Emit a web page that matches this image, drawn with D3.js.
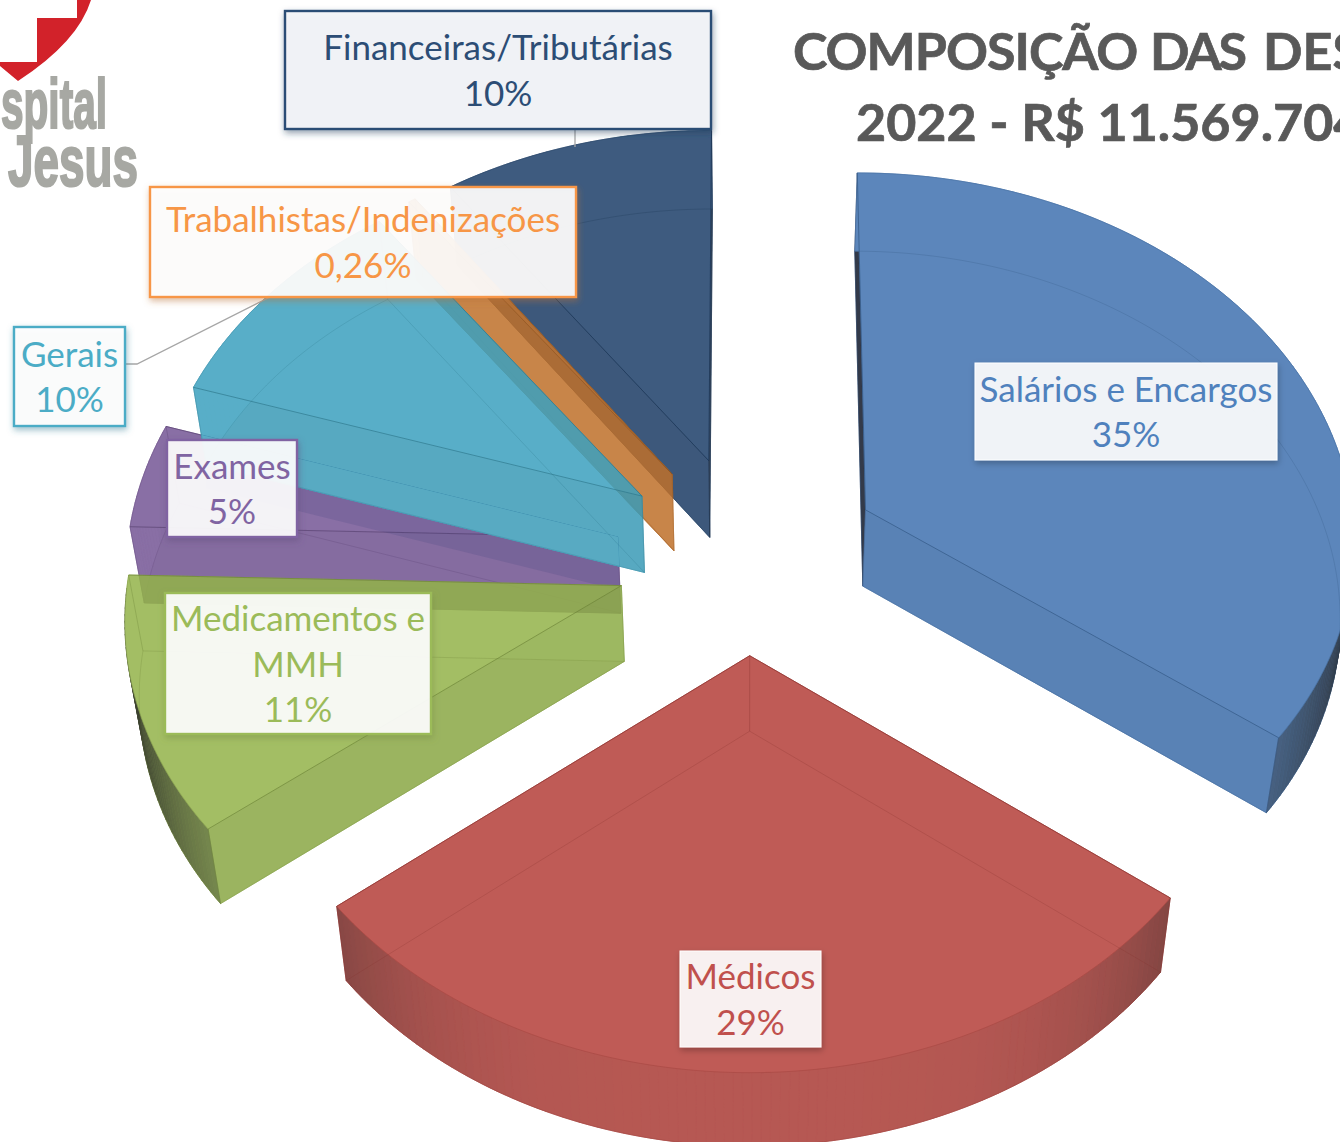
<!DOCTYPE html>
<html><head><meta charset="utf-8">
<script src="https://cdn.jsdelivr.net/npm/d3@7"></script>
<style>html,body{margin:0;padding:0;background:#fff;overflow:hidden}svg{display:block}</style>
</head><body><div id="chart"></div>
<script>
// ---- data ----
const categories = ["Salários e Encargos","Médicos","Medicamentos e MMH","Exames","Gerais","Trabalhistas/Indenizações","Financeiras/Tributárias"];
const shares = [35.25,29.1,11.1,4.55,10,0.26,9.74];
const shareLabels = ["35%","29%","11%","5%","10%","0,26%","10%"];
const titleLines = ["COMPOSIÇÃO DAS DESPESAS","2022 - R$ 11.569.704,00"];
// ---- style ----
const faceColors = ["#4072B0","#B53F39","#93B349","#755696","#3CA1BF","#C7752C","#1D3F69"];
const textColors = ["#4F81BD","#C0504D","#9BBB59","#8064A2","#4BACC6","#F79646","#2C4D75"];
const borderColors = [null,null,"#9BBB59","#8064A2","#4BACC6","#F79646","#2C4D75"];
const labelFills = ["#fff","#fff","#fff","#fff","#fff","#fff","#F4F6F9"];
const labelBoxes = [[975,363,302,97],[680,951,141,96],[165,593,266,141],[167,440,130,97],[14,327,111,99],[150,187,426,110],[285,11,426,118]];
const labelLines = [["Salários e Encargos"],["Médicos"],["Medicamentos e","MMH"],["Exames"],["Gerais"],["Trabalhistas/Indenizações"],["Financeiras/Tributárias"]];
const titleWordX = [793,1150,1263];
const titleWordSpacing = [-1,-3,0];
const paintOrder = [6,5,3,4,2,0,1];
const PURPLE=3, CYAN=4;

const W=1340,H=1142;
const svg=d3.select("#chart").append("svg").attr("width",W).attr("height",H).attr("viewBox",[0,0,W,H]);
const defs=svg.append("defs");
categories.forEach((c,i)=>{
  const sh=defs.append("filter").attr("id","shadow"+i).attr("x","-10%").attr("y","-10%").attr("width","125%").attr("height","130%");
  sh.append("feDropShadow").attr("dx",1).attr("dy",3).attr("stdDeviation",3)
    .attr("flood-color",borderColors[i]?d3.interpolateRgb(borderColors[i],"#000")(.25):"#000")
    .attr("flood-opacity",borderColors[i]?.5:.28);
});
defs.append("filter").attr("id","soft").append("feGaussianBlur").attr("stdDeviation",.7);

// ---- projection of the exploded, tilted pie ----
const cx=748,cy=554,rx=491,ry=369,persp=0.076,explode=0.27,baseScale=0.977,opacity=.85;
const depthAt=d3.scaleLinear().domain([-1,1]).range([78,74]);
const arcs=d3.pie().sort(null).value(d=>d)(shares);

function project(wx,wy,bottom){
  const s=1/(1-persp*wy);
  const x=rx*wx*s, y=ry*wy*s;
  return bottom?[cx+x*baseScale,cy+y+depthAt(wy)]:[cx+x,cy+y];
}
function sliceGeom(a){
  const mid=(a.startAngle+a.endAngle)/2;
  const ox=explode*Math.sin(mid), oy=-explode*Math.cos(mid);
  const pt=(t,b)=>project(ox+Math.sin(t),oy-Math.cos(t),b);
  const apex=b=>project(ox,oy,b);
  const n=Math.max(2,Math.ceil((a.endAngle-a.startAngle)/(Math.PI/180)));
  const ts=d3.range(n+1).map(i=>a.startAngle+(a.endAngle-a.startAngle)*i/n);
  return {pt,apex,ts};
}
const line=d3.line();
const closed=p=>line(p)+"Z";
const pies=svg.append("g");

function facePolys(i){
  const a=arcs[i], g=sliceGeom(a), col=faceColors[i];
  const dark=d3.interpolateRgb(col,"#000");
  const t0=a.startAngle,t1=a.endAngle;
  const list=[];
  list.push({p:[g.apex(true),...g.ts.map(t=>g.pt(t,true))],c:col});
  list.push({p:[g.apex(false),g.pt(t0,false),g.pt(t0,true),g.apex(true)],c:i===0?"#10182a":dark(i===1||i===2?.06:.04)});
  list.push({p:[g.apex(false),g.pt(t1,false),g.pt(t1,true),g.apex(true)],c:i===6?"#10233d":dark(.04)});
  g.ts.slice(0,-1).forEach((t,k)=>{
    const u=g.ts[k+1],m=(t+u)/2;
    const front=Math.cos(m)<0;
    const f=front?0.06+0.8*Math.pow(Math.abs(Math.sin(m)),4):0;
    list.push({p:[g.pt(t,false),g.pt(u,false),g.pt(u,true),g.pt(t,true)],c:dark(f)});
  });
  list.push({p:[g.apex(false),...g.ts.map(t=>g.pt(t,false))],c:col});
  return list;
}
function drawFaces(parent,i,tint){
  facePolys(i).forEach(f=>{
    const c=tint?d3.interpolateRgb("#fff",f.c)(opacity):f.c;
    parent.append("path").attr("d",closed(f.p)).attr("fill",c).attr("stroke",c).attr("stroke-width",.6);
  });
}
// purple silhouette, used so that the teal slice stays clean over it
const clip=defs.append("clipPath").attr("id","purpleClip");
facePolys(PURPLE).forEach(f=>clip.append("path").attr("d",closed(f.p)));

paintOrder.forEach(i=>{
  const a=arcs[i], g=sliceGeom(a), col=faceColors[i];
  if(i===CYAN){
    // soft shadow the teal slice drops on the purple one
    const sh=[g.pt(a.startAngle,true),g.apex(true)];
    pies.append("path").attr("clip-path","url(#purpleClip)")
      .attr("d",closed([...sh,[sh[1][0],sh[1][1]+24],[sh[0][0],sh[0][1]+24]]))
      .attr("fill","#1d2c6a").attr("opacity",.13);
  }
  const grp=pies.append("g").attr("opacity",opacity);
  drawFaces(grp,i,false);
  if(i===CYAN){
    const patch=pies.append("g").attr("clip-path","url(#purpleClip)");
    drawFaces(patch,i,true);
  }
  const t0=a.startAngle,t1=a.endAngle;
  const edge=d3.interpolateRgb(col,"#000")(.3);
  const ln=(p,op)=>pies.append("path").attr("d",line(p)).attr("fill","none").attr("stroke",edge).attr("stroke-width",1).attr("opacity",op);
  ln([g.pt(t0,false),g.apex(false),g.pt(t1,false)],.6);
  ln(g.ts.map(t=>g.pt(t,false)),.25);
  ln([g.pt(t0,true),g.apex(true),g.pt(t1,true)],.22);
  ln(g.ts.map(t=>g.pt(t,true)),.22);
  ln([g.apex(false),g.apex(true)],.3);
  ln([g.pt(t1,false),g.pt(t1,true)],.3);
  ln([g.pt(t0,false),g.pt(t0,true)],.3);
});

// ---- leader lines ----
const leaders=svg.append("g").attr("fill","none").attr("stroke","#A6A6A6").attr("stroke-width",1.3);
leaders.append("path").attr("d",line([[125,364],[137,364],[272,296]]));
leaders.append("path").attr("d",line([[575,129],[575,147]]));

// ---- labels ----
const font="Lato, Carlito, 'Open Sans', sans-serif";
categories.forEach((c,i)=>{
  const [x,y,w,h]=labelBoxes[i];
  const g=svg.append("g");
  g.append("rect").attr("x",x).attr("y",y).attr("width",w).attr("height",h)
    .attr("fill",labelFills[i]).attr("fill-opacity",.9)
    .attr("stroke",borderColors[i]||"#fff").attr("stroke-width",borderColors[i]?2.4:1)
    .attr("filter",`url(#shadow${i})`);
  const lines=[...labelLines[i],shareLabels[i]];
  const step=45.7, first=y+h/2-(lines.length-1)*step/2;
  lines.forEach((t,k)=>{
    g.append("text").attr("x",x+w/2).attr("y",first+k*step+13)
      .attr("text-anchor","middle").attr("font-family",font).attr("font-size",35)
      .attr("fill",textColors[i]).text(t);
  });
});

// ---- title ----
const title=svg.append("g").attr("font-family",font).attr("font-weight",700).attr("font-size",52)
  .attr("fill","#595959").attr("stroke","#595959").attr("stroke-width",.7);
const t1=title.append("text").attr("y",70);
titleLines[0].split(" ").forEach((w,k)=>{
  t1.append("tspan").attr("x",titleWordX[k]).attr("letter-spacing",titleWordSpacing[k]).text(w);
});
title.append("text").attr("x",856).attr("y",141).text(titleLines[1]);

// ---- logo ----
const logo=svg.append("g").attr("filter","url(#soft)");
logo.append("path").attr("d","M0,62L37,62L37,18L77,18L77,0L91,0Q78,42 18,81L0,66Z").attr("fill","#D2202A");
const lf="'Liberation Sans Narrow', 'Liberation Sans', sans-serif";
logo.append("text").attr("x",1).attr("y",128).attr("font-family",lf).attr("font-weight",700).attr("font-size",70)
  .attr("textLength",106).attr("lengthAdjust","spacingAndGlyphs").attr("fill","#A7A8A3").attr("stroke","#A7A8A3").attr("stroke-width",2.2).text("spital");
logo.append("text").attr("x",8).attr("y",186).attr("font-family",lf).attr("font-weight",700).attr("font-size",72)
  .attr("textLength",130).attr("lengthAdjust","spacingAndGlyphs").attr("fill","#A7A8A3").attr("stroke","#A7A8A3").attr("stroke-width",2.2).text("Jesus");
</script></body></html>
